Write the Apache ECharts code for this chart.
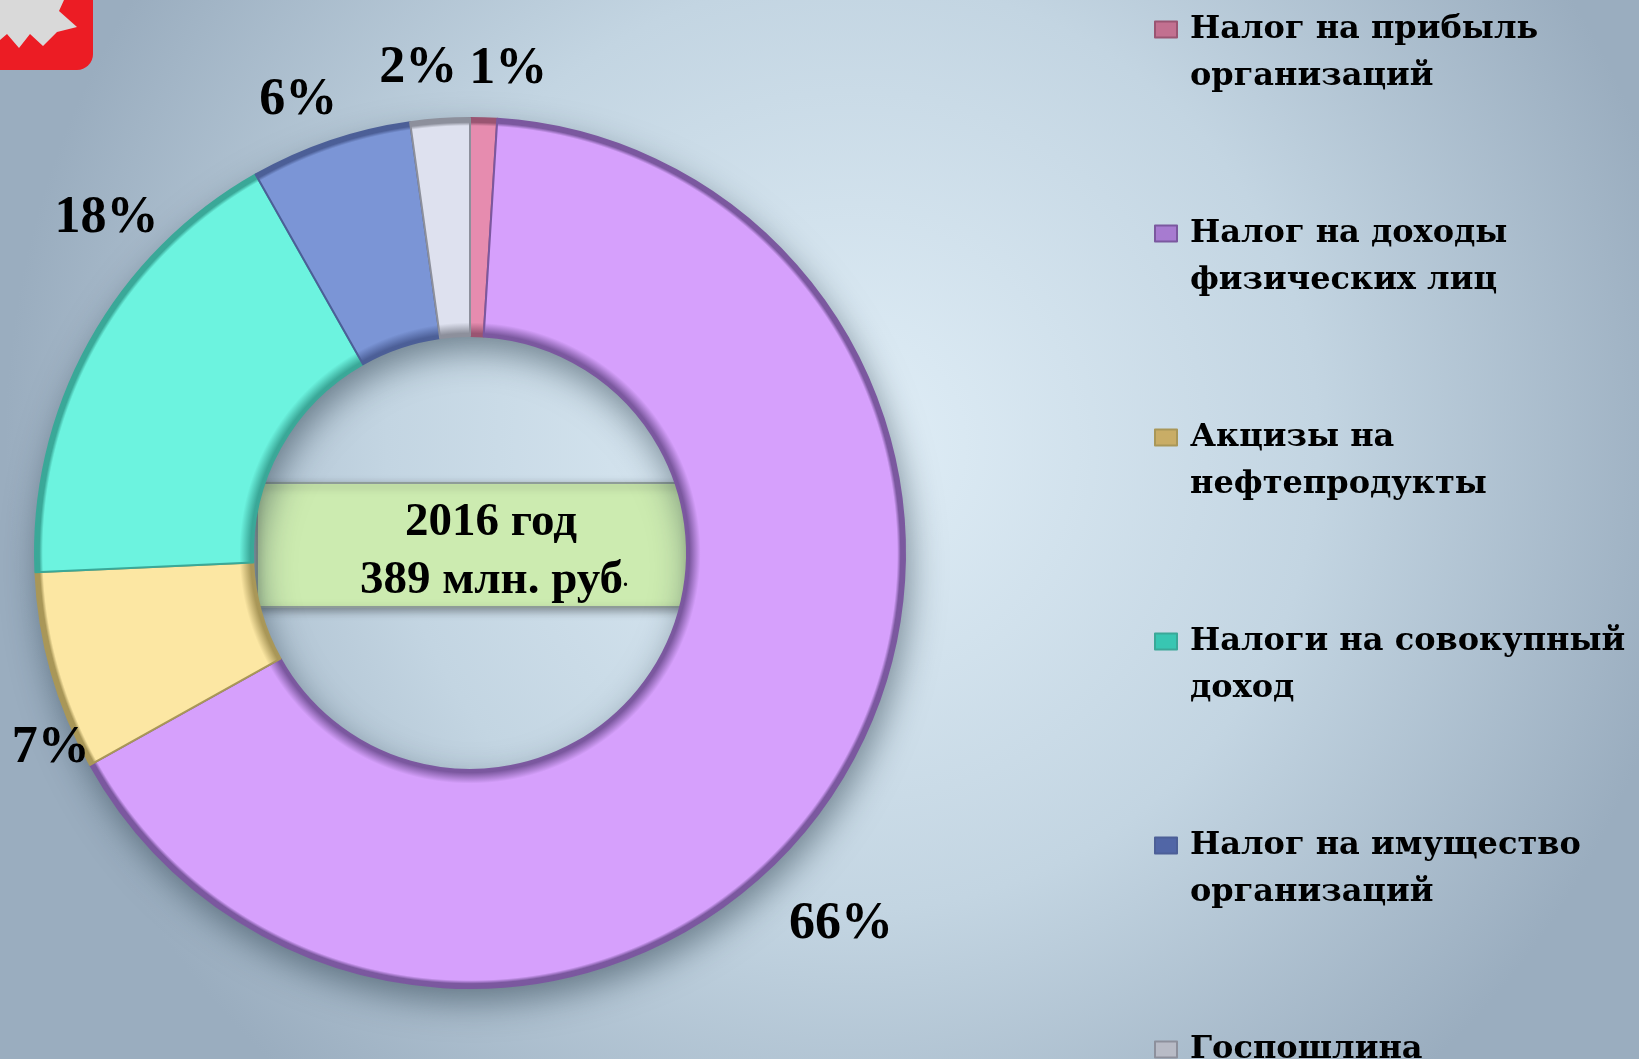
<!DOCTYPE html>
<html lang="ru">
<head>
<meta charset="UTF-8">
<title>Налоговые доходы 2016</title>
<script src="https://cdn.jsdelivr.net/npm/echarts@6/dist/echarts.min.js"></script>
<style>
    html, body { margin: 0; padding: 0; }
    #main { width: 1639px; height: 1059px; }
</style>
</head>
<body>
<div id="main"></div>
<script>
    // данные (доля в %)
    var names = [
        'Налог на прибыль\nорганизаций',
        'Налог на доходы\nфизических лиц',
        'Акцизы на\nнефтепродукты',
        'Налоги на совокупный\nдоход',
        'Налог на имущество\nорганизаций',
        'Госпошлина'
    ];
    var shares = [1.0, 65.9, 7.4, 17.5, 6.0, 2.2];
    var title1 = '2016 год';
    var title2 = '389 млн. руб';

    // оформление
    var sliceColors = ['#E68CAF', '#D6A0FC', '#FCE7A3', '#6CF3DF', '#7B95D6', '#DEE1EF'];
    var edgeColors = ['#9a5572', '#7b589f', '#a99758', '#3aa898', '#4c5f97', '#8d909c'];
    var markerColors = ['#c27090', '#a77bd0', '#c9ad66', '#38c6b2', '#5166a6', '#b8bbc6'];
    var labelTurn = [2.7, 12.5, -8.7, 14, -1.9, -2.1];   // сдвиг подписи по углу, град
    var labelDist = [54, 87, 26, 62, 53, 56];            // отступ подписи от кольца, px

    var cx = 470, cy = 553, rIn = 217, rOut = 435;

    // объёмная "фаска" по краям кольца
    function ringFill(base, edge) {
        return {
            type: 'radial', x: cx, y: cy, r: rOut, global: true,
            colorStops: [
                {offset: 0.49, color: edge},
                {offset: 0.505, color: edge},
                {offset: 0.53, color: base},
                {offset: 0.982, color: base},
                {offset: 0.99, color: edge},
                {offset: 1, color: edge}
            ]
        };
    }

    var pieData = names.map(function (n, i) {
        return {
            name: n,
            value: shares[i],
            itemStyle: {color: ringFill(sliceColors[i], edgeColors[i]), borderColor: edgeColors[i]}
        };
    });

    var legendData = names.map(function (n, i) {
        return {name: n, itemStyle: {color: markerColors[i]}};
    });

    var sum = shares.reduce(function (a, b) { return a + b; }, 0);

    var myChart = echarts.init(document.getElementById('main'));
    var option = {
        backgroundColor: {
            type: 'radial', x: 0.52, y: 0.42, r: 0.8,
            colorStops: [
                {offset: 0, color: '#e0eef7'},
                {offset: 0.55, color: '#c3d5e2'},
                {offset: 1, color: '#9aadbf'}
            ]
        },
        animation: false,
        legend: {
            orient: 'vertical',
            left: 1154,
            top: -41,
            height: 1300,
            padding: 0,
            itemGap: 63,
            itemWidth: 22,
            itemHeight: 16,
            icon: 'rect',
            selectedMode: false,
            data: legendData,
            formatter: function (name) {
                return '\n' + name + (name.indexOf('\n') < 0 ? '\n ' : '');
            },
            textStyle: {
                fontFamily: 'DejaVu Serif',
                fontWeight: 'bold',
                fontSize: 32,
                lineHeight: 47,
                color: '#000',
                padding: [0, 0, 0, 8]
            }
        },
        series: [
            {
                // тень под кольцом
                type: 'pie',
                silent: true,
                center: [cx, cy],
                radius: [rIn, rOut],
                label: {show: false},
                labelLine: {show: false},
                data: [{value: sum, name: '', itemStyle: {
                    color: '#b9a4d6',
                    shadowBlur: 34,
                    shadowOffsetX: 4,
                    shadowOffsetY: 14,
                    shadowColor: 'rgba(25,45,60,0.5)'
                }}]
            },
            {
                type: 'pie',
                center: [cx, cy],
                radius: [rIn, rOut],
                startAngle: 90,
                clockwise: true,
                avoidLabelOverlap: false,
                emphasis: {scale: false},
                itemStyle: {borderWidth: 2},
                label: {
                    show: true,
                    position: 'outside',
                    formatter: function (p) { return Math.round(p.percent) + '%'; },
                    fontFamily: 'Liberation Serif',
                    fontWeight: 'bold',
                    fontSize: 52,
                    color: '#000'
                },
                labelLine: {show: false},
                labelLayout: function (p) {
                    var i = p.dataIndex;
                    var before = 0;
                    for (var k = 0; k < i; k++) before += shares[k];
                    var ang = ((before + shares[i] / 2) / sum * 360 + labelTurn[i]) * Math.PI / 180;
                    var r = rOut + labelDist[i];
                    return {
                        x: cx + r * Math.sin(ang),
                        y: cy - r * Math.cos(ang) + 4,
                        align: 'center',
                        verticalAlign: 'middle'
                    };
                },
                data: pieData
            }
        ],
        graphic: [
            {
                type: 'group', z: 100, children: [
                    // эмблема в углу
                    {type: 'rect', shape: {x: -20, y: -20, width: 113, height: 90, r: 16},
                        style: {fill: '#EC1C24'}},
                    {type: 'polygon', shape: {points: [[0, 0], [64, 0], [59, 11], [77, 27], [57, 32],
                            [43, 46], [30, 34], [19, 48], [7, 34], [0, 40]]},
                        style: {fill: '#d9d9d9'}},
                    // табличка в центре
                    {type: 'rect', shape: {x: 257, y: 483, width: 432, height: 124},
                        style: {fill: '#CCEBB0', stroke: '#8e9c98', lineWidth: 2,
                            shadowBlur: 8, shadowOffsetY: 3, shadowColor: 'rgba(0,0,0,0.35)'}},
                    {type: 'text', x: 491, y: 523,
                        style: {text: title1, align: 'center', verticalAlign: 'middle',
                            font: 'bold 47px "Liberation Serif"', fill: '#000'}},
                    {type: 'text', x: 494, y: 581,
                        style: {text: '{a|' + title2 + '}{b|.}', align: 'center', verticalAlign: 'middle',
                            rich: {
                                a: {fontFamily: 'Liberation Serif', fontWeight: 'bold', fontSize: 47, fill: '#000'},
                                b: {fontFamily: 'Liberation Serif', fontWeight: 'bold', fontSize: 20, fill: '#000'}
                            }}}
                ]
            }
        ]
    };
    myChart.setOption(option);
</script>
</body>
</html>
